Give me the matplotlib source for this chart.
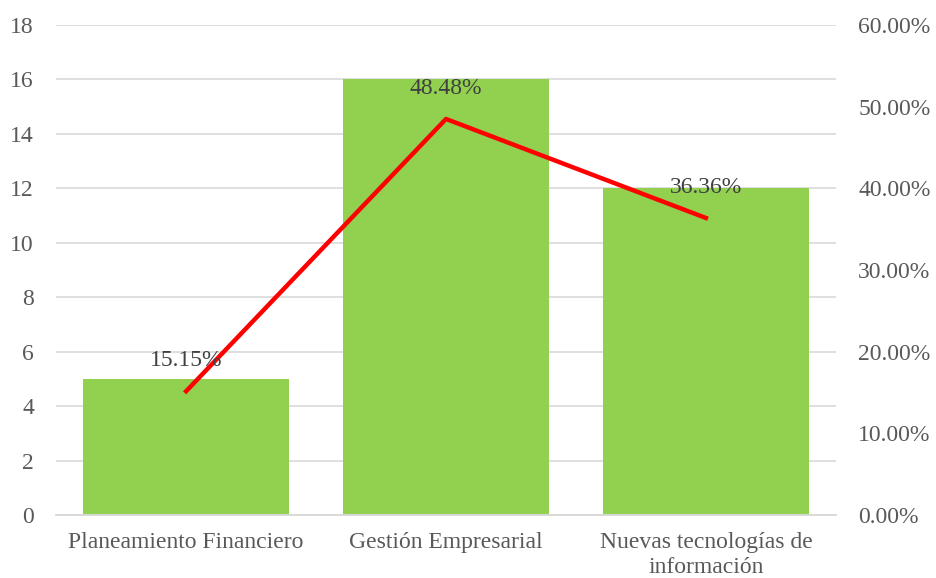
import matplotlib.pyplot as plt
from matplotlib.ticker import FuncFormatter

# --- Data ---
categories = ["Planeamiento Financiero", "Gestión Empresarial", "Nuevas tecnologías de\ninformación"]
counts = [5, 16, 12]
percents = [15.15, 48.48, 36.36]

plt.rcParams["font.family"] = ["Liberation Serif", "DejaVu Serif"]
text_col = "#595959"
grid_col = "#D9D9D9"
fs = 17

fig = plt.figure(figsize=(9.36, 5.78), dpi=100)
ax = fig.add_axes([0.060, 0.109, 0.833, 0.848])
ax2 = ax.twinx()

x = list(range(len(categories)))
ax.bar(x, counts, width=0.795, color="#92D050", zorder=2)
ax.set_xlim(-0.5, len(categories) - 0.5)
ax.set_ylim(0, 18)
ax.set_yticks(range(0, 19, 2))
ax.grid(axis="y", color=grid_col, linewidth=1.2, zorder=0)
ax.set_axisbelow(True)
ax.set_xticks(x)
ax.set_xticklabels(categories, fontsize=fs, color=text_col, linespacing=1.3)
ax.tick_params(axis="x", length=0, pad=12)
ax.tick_params(axis="y", length=0, pad=16, labelsize=fs, labelcolor=text_col)

ax2.plot(x, percents, color="#FF0000", linewidth=3.2, zorder=3)
ax2.set_ylim(0, 60)
ax2.set_yticks(range(0, 61, 10))
ax2.yaxis.set_major_formatter(FuncFormatter(lambda v, p: f"{v:.2f}%"))
ax2.tick_params(axis="y", length=0, pad=16, labelsize=fs, labelcolor=text_col)

for xi, p in zip(x, percents):
    ax2.annotate(f"{p:.2f}%", (xi, p), xytext=(0, 22), textcoords="offset points",
                 ha="center", va="center", fontsize=fs, color="#404040")

for a in (ax, ax2):
    for s in ["top", "left", "right"]:
        a.spines[s].set_visible(False)
    a.spines["bottom"].set_color(grid_col)
    a.spines["bottom"].set_linewidth(1.2)

fig.savefig("out.png", dpi=100)
